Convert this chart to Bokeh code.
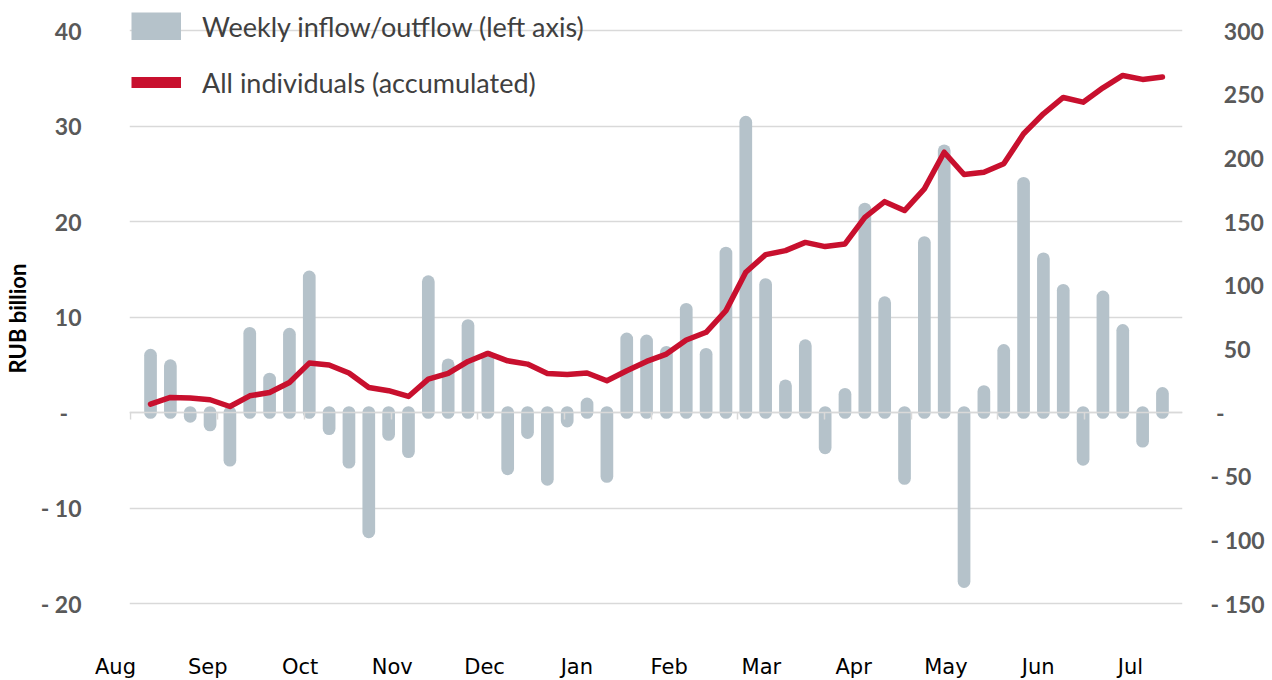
from bokeh.plotting import figure
from bokeh.layouts import column
from bokeh.models import (Range1d, LinearAxis, FixedTicker, Legend, LegendItem,
                          ColumnDataSource, Grid, CustomJSTickFormatter)
from bokeh.core.properties import value
from bokeh.embed import file_html
from bokeh.resources import INLINE

# ---------------- data ----------------
months = ["Aug", "Sep", "Oct", "Nov", "Dec", "Jan", "Feb", "Mar", "Apr", "May", "Jun", "Jul"]

weekly_flow = [6.0, 4.9, -0.4, -1.3, -5.0, 8.3, 3.5, 8.2, 14.2, -1.7,
               -5.2, -12.5, -2.3, -4.1, 13.7, 5.0, 9.1, 5.8, -5.9, -2.1,
               -7.0, -0.9, 0.9, -6.7, 7.7, 7.5, 6.3, 10.8, 6.1, 16.7,
               30.4, 13.4, 2.8, 7.0, -3.7, 1.9, 21.3, 11.5, -6.9, 17.8,
               27.4, -17.7, 2.2, 6.5, 24.0, 16.1, 12.8, -4.9, 12.1, 8.6,
               -3.0, 2.0]

accumulated = [6.6, 11.8, 11.3, 10.0, 4.7, 13.1, 15.7, 23.6, 38.8, 37.3,
               31.0, 19.7, 17.1, 12.6, 26.2, 30.7, 40.1, 46.4, 40.6, 38.0,
               30.7, 29.9, 31.0, 24.9, 32.8, 40.1, 45.9, 56.9, 63.0, 80.0,
               110.1, 124.0, 127.1, 133.6, 130.3, 132.4, 153.3, 165.6, 158.6, 175.6,
               204.4, 186.9, 188.7, 195.3, 218.9, 234.6, 247.4, 243.7, 255.0, 264.7,
               261.6, 263.4]

left_ticks = [-20, -10, 0, 10, 20, 30, 40]
left_labels = ["- 20", "- 10", "-\u2007", "10", "20", "30", "40"]
right_ticks = [-150, -100, -50, 0, 50, 100, 150, 200, 250, 300]
right_labels = ["- 150", "- 100", "- 50", "\u00a0-", "\u200750", "\u2007100", "\u2007150",
                "\u2007200", "\u2007250", "\u2007300"]

# ---------------- styling / layout ----------------
BAR = "#B5C2CA"
RED = "#C8102E"
GRID = "#D9D9D9"
TICKC = "#595959"

W = 1270
H_MAIN = 650
H_MONTH = 30
PX_PER_UNIT = 9.55                       # left-axis pixels per RUB bn
Y_TOP = 40 + 30 / PX_PER_UNIT            # room above the top gridline for the legend
Y_BOT = -20 - 33 / PX_PER_UNIT           # room below the bottom gridline
FRAME_H = round((Y_TOP - Y_BOT) * PX_PER_UNIT)
FL, FR, FT, FB = 128, 88, 0, H_MAIN - FRAME_H
X0, X1 = -1.06, 52.01                    # visible weeks
RIGHT_SCALE = 7.5                        # right axis = left axis * 7.5

n = len(weekly_flow)
weeks = list(range(n))
src = ColumnDataSource(dict(week=weeks, base=[0] * n, flow=weekly_flow, acc=accumulated))

p = figure(width=W, height=H_MAIN,
           x_range=Range1d(X0, X1), y_range=Range1d(Y_BOT, Y_TOP),
           output_backend="svg", toolbar_location=None,
           x_axis_location=None, y_axis_location=None,
           min_border_left=FL, min_border_right=FR, min_border_top=FT, min_border_bottom=FB,
           outline_line_color=None, background_fill_color="white", border_fill_color="white")
p.frame_align = False
for g in p.grid:
    g.visible = False
p.extra_y_ranges = {"right": Range1d(Y_BOT * RIGHT_SCALE, Y_TOP * RIGHT_SCALE)}

# horizontal gridlines
p.add_layout(Grid(dimension=1, ticker=FixedTicker(ticks=left_ticks),
                  grid_line_color=GRID, grid_line_width=1.5))

# left axis
yl = LinearAxis(ticker=FixedTicker(ticks=left_ticks),
                major_label_overrides=dict(zip(left_ticks, left_labels)),
                axis_line_color=None, major_tick_line_color=None, minor_tick_line_color=None,
                major_tick_in=0, major_tick_out=0, major_label_standoff=48,
                major_label_text_font="Lato", major_label_text_font_style="bold",
                major_label_text_font_size="23px", major_label_text_color=TICKC,
                axis_label="RUB billion", axis_label_text_font="Lato",
                axis_label_text_font_style="bold", axis_label_text_font_size="22px",
                axis_label_text_color="black", axis_label_standoff=7)
p.add_layout(yl, "left")

# right axis
yr = LinearAxis(y_range_name="right", ticker=FixedTicker(ticks=right_ticks),
                major_label_overrides=dict(zip(right_ticks, right_labels)),
                axis_line_color=None, major_tick_line_color=None, minor_tick_line_color=None,
                major_tick_in=0, major_tick_out=0, major_label_standoff=28,
                major_label_text_font="Lato", major_label_text_font_style="bold",
                major_label_text_font_size="23px", major_label_text_color=TICKC)
p.add_layout(yr, "right")

# zero axis with month-boundary ticks
step_w = 4.37
month_bounds = [7.75 + step_w * k for k in range(-2, 10)]
x0axis = LinearAxis(fixed_location=0, ticker=FixedTicker(ticks=month_bounds),
                    formatter=CustomJSTickFormatter(code="return ''"),
                    axis_line_color=GRID, axis_line_width=1.5,
                    major_tick_line_color=GRID, major_tick_line_width=1.5,
                    major_tick_in=0, major_tick_out=7, minor_tick_line_color=None,
                    major_label_text_font_size="1px", major_label_standoff=0)
p.add_layout(x0axis, "below")

# bars (rounded ends)
p.segment(x0="week", y0="base", x1="week", y1="flow", source=src,
          line_color=BAR, line_width=12.7, line_cap="round")

# accumulated line
p.line(x="week", y="acc", source=src, y_range_name="right",
       line_color=RED, line_width=5.5, line_join="round", line_cap="round")

# legend swatches (single-point renderers draw nothing in the plot)
leg_bar = p.line(x=[0], y=[0], line_color=BAR, line_width=28)
leg_line = p.line(x=[0], y=[0], line_color=RED, line_width=11)
LEG_TOP = 9
LEG_H = 34 + 22 + 34
legend = Legend(items=[LegendItem(label="Weekly inflow/outflow (left axis)", renderers=[leg_bar]),
                       LegendItem(label="All individuals (accumulated)", renderers=[leg_line])],
                location=(2, FRAME_H - LEG_TOP - LEG_H),
                glyph_width=50, glyph_height=28, label_height=34,
                label_standoff=21, spacing=22, padding=0, margin=0, border_line_color=None,
                background_fill_alpha=0, label_text_font="Lato", label_text_font_size="27px",
                label_text_color="#404040", label_text_baseline="middle")
p.add_layout(legend)

# month strip below, sharing the same week scale
px_per_week = (W - FL - FR) / (X1 - X0)
p2 = figure(width=W, height=H_MONTH,
            x_range=Range1d(X0 - FL / px_per_week, X1 + FR / px_per_week),
            y_range=Range1d(0, H_MONTH),
            output_backend="svg", toolbar_location=None,
            x_axis_location=None, y_axis_location=None,
            min_border_left=0, min_border_right=0, min_border_top=0, min_border_bottom=0,
            outline_line_color=None, background_fill_color="white", border_fill_color="white")
p2.frame_align = False
for g in p2.grid:
    g.visible = False

aug_x = -1.715
month_step = 4.646
month_x = [aug_x + i * month_step for i in range(len(months))]
p2.text(x=month_x, y=[14] * len(months), text=months, text_align="center",
        text_baseline="middle", text_font=value("DejaVu Sans"),
        text_font_size="21px", text_color="black")

layout = column(p, p2, spacing=0)
open("out.html", "w").write(file_html(layout, INLINE))
